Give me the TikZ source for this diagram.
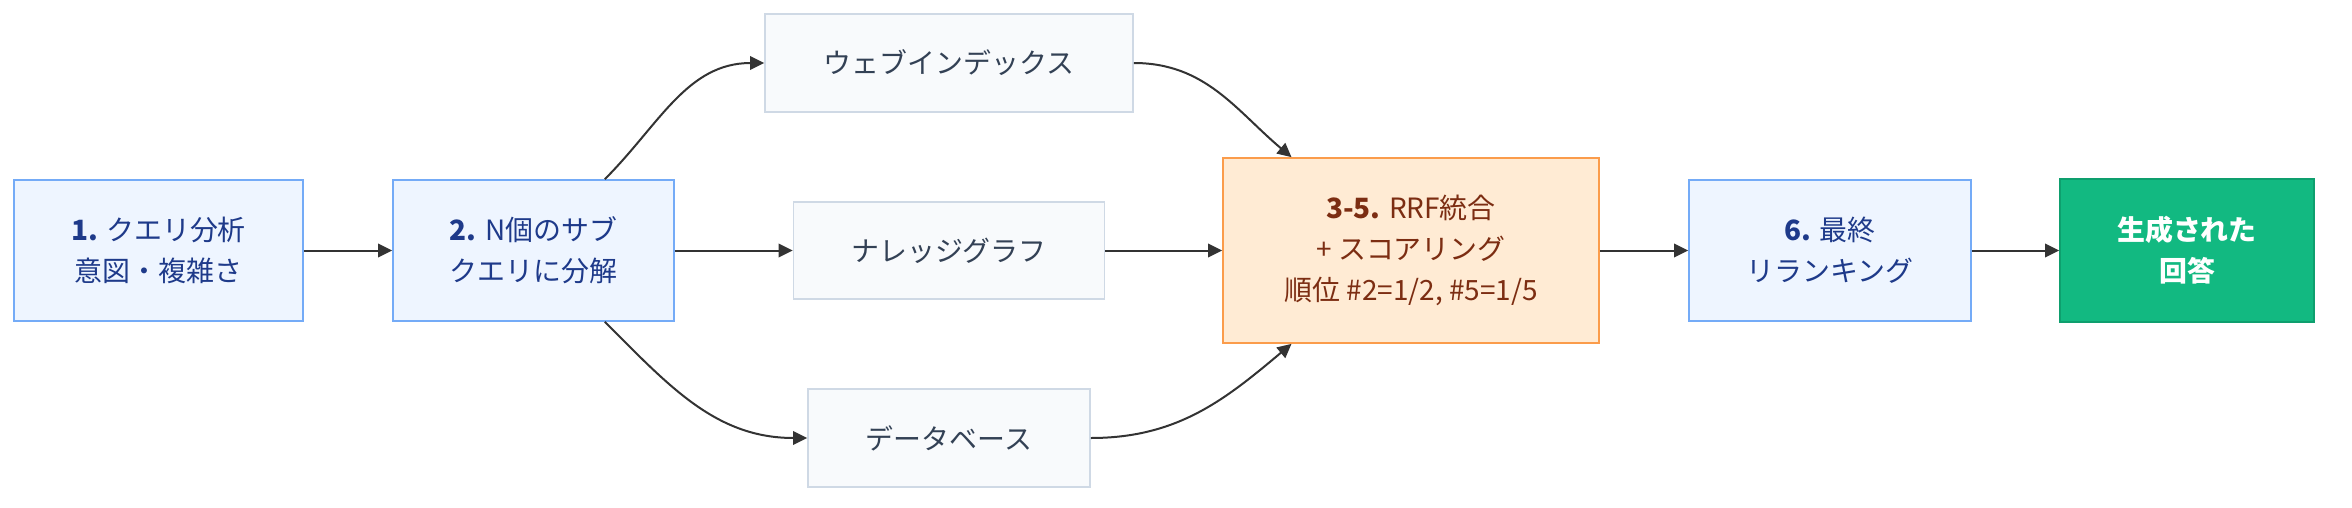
\documentclass[tikz,border=0pt]{standalone}
\usepackage{fontspec}
\setmainfont{Noto Sans CJK JP}
\usetikzlibrary{arrows.meta}
\definecolor{stepfill}{HTML}{EEF5FF}
\definecolor{stepline}{HTML}{74ABF7}
\definecolor{steptext}{HTML}{1E3A8A}
\definecolor{srcfill}{HTML}{F8FAFC}
\definecolor{srcline}{HTML}{CFD9E5}
\definecolor{srctext}{HTML}{334155}
\definecolor{fusefill}{HTML}{FFEBD4}
\definecolor{fuseline}{HTML}{FB9C4B}
\definecolor{fusetext}{HTML}{7C2D12}
\definecolor{ansfill}{HTML}{12B981}
\definecolor{ansline}{HTML}{0E9F6E}
\definecolor{wirecol}{HTML}{333333}
\begin{document}
\begin{tikzpicture}[x=0.02cm, y=-0.02cm,
		box/.style = {draw, line width=0.035cm, inner sep=0pt, align=center,
			font=\fontsize{15.9pt}{23.3pt}\selectfont},
		stepbox/.style = {box, fill=stepfill, draw=stepline, text=steptext, minimum height=2.82cm},
		srcbox/.style = {box, fill=srcfill, draw=srcline, text=srctext, minimum height=1.96cm},
		fusebox/.style = {box, fill=fusefill, draw=fuseline, text=fusetext},
		ansbox/.style = {box, fill=ansfill, draw=ansline, text=white},
		wire/.style = {draw=wirecol, line width=0.04cm, -{Triangle[length=2.8mm, width=2.7mm]}}]
	\useasboundingbox (0,0) rectangle (2352,507);
	% main line
	\node [stepbox, minimum width=5.78cm] (query) at (158.5,250.5) {\textbf{1.} クエリ分析\\意図・複雑さ};
	\node [stepbox, minimum width=5.62cm] (decomp) at (533.5,250.5) {\textbf{2.} N個のサブ\\クエリに分解};
	% sources
	\node [srcbox, minimum width=7.36cm] (web) at (949,63) {ウェブインデックス};
	\node [srcbox, minimum width=6.22cm, minimum height=1.94cm] (kg) at (949,250.5) {ナレッジグラフ};
	\node [srcbox, minimum width=5.64cm] (db) at (949,438) {データベース};
	\node [fusebox, minimum width=7.52cm, minimum height=3.70cm] (rrf) at (1411,250.5) {\textbf{3-5.} RRF統合\\+ スコアリング\\順位 \#2=1/2, \#5=1/5};
	\node [stepbox, minimum width=5.64cm] (rerank) at (1830,250.5) {\textbf{6.} 最終\\リランキング};
	\node [ansbox, minimum width=5.08cm, minimum height=2.86cm] (answer) at (2187,250.5) {\textbf{生成された}\\\textbf{回答}};

	\draw [wire] (query) -- (decomp);
	\draw [wire] (decomp.45) to [out=45, in=180] (web.west);
	\draw [wire] (decomp) -- (kg);
	\draw [wire] (decomp.-45) to [out=-45, in=180] (db.west);
	\draw [wire] (web.east) to [out=0, in=140] (rrf.142);
	\draw [wire] (kg) -- (rrf);
	\draw [wire] (db.east) to [out=0, in=-140] (rrf.-142);
	\draw [wire] (rrf) -- (rerank);
	\draw [wire] (rerank) -- (answer);
\end{tikzpicture}
\end{document}
